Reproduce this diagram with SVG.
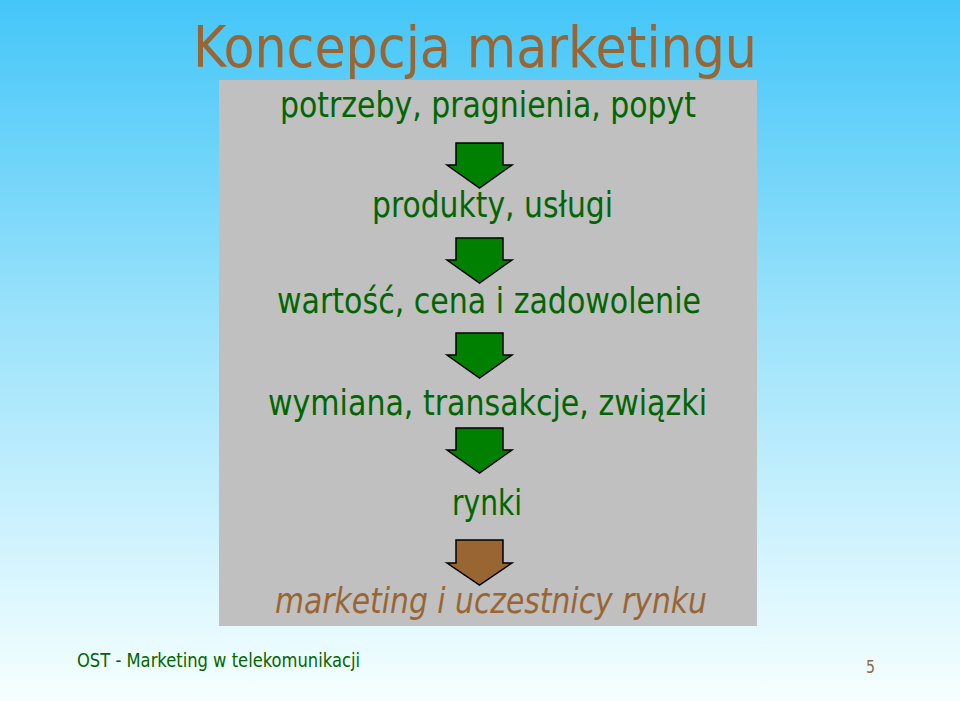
<svg xmlns="http://www.w3.org/2000/svg" width="960" height="701" viewBox="0 0 960 701">
  <defs>
    <linearGradient id="bg" x1="0" y1="0" x2="0" y2="1">
      <stop offset="0" stop-color="#44c6f8"/>
      <stop offset="0.45" stop-color="#9ae2fb"/>
      <stop offset="1" stop-color="#f6ffff"/>
    </linearGradient>
    <style>
      .t { font-family: "DejaVu Sans Condensed", "DejaVu Sans", sans-serif; }
      .node { font-size: 35px; fill: #006600; }
      .title { font-size: 57px; fill: #996633; }
      .it { font-size: 35px; fill: #996633; font-style: italic; }
      .foot { font-size: 19.5px; fill: #006600; }
      .num { font-size: 18px; fill: #8a6a40; }
      .arrow { fill: #008000; stroke: #000; stroke-width: 1.5; stroke-linejoin: miter; }
      .arrow.brown { fill: #996633; }
    </style>
  </defs>
  <rect x="0" y="0" width="960" height="701" fill="url(#bg)"/>
  <text id="title" class="t title" x="193" y="67" textLength="564" lengthAdjust="spacingAndGlyphs">Koncepcja marketingu</text>
  <rect id="panel" x="219" y="80" width="538" height="546" fill="#c0c0c0"/>

  <g id="n1"><text class="t node" x="280" y="117" textLength="416" lengthAdjust="spacingAndGlyphs">potrzeby, pragnienia, popyt</text></g>
  <g id="n2"><text class="t node" x="372" y="217" textLength="241" lengthAdjust="spacingAndGlyphs">produkty, usługi</text></g>
  <g id="n3"><text class="t node" x="277" y="313" textLength="424" lengthAdjust="spacingAndGlyphs">wartość, cena i zadowolenie</text></g>
  <g id="n4"><text class="t node" x="268" y="415" textLength="439" lengthAdjust="spacingAndGlyphs">wymiana, transakcje, związki</text></g>
  <g id="n5"><text class="t node" x="452" y="515" textLength="70" lengthAdjust="spacingAndGlyphs">rynki</text></g>
  <g id="n6"><text class="t it" x="275" y="613" textLength="432" lengthAdjust="spacingAndGlyphs">marketing i uczestnicy rynku</text></g>

  <g id="connectors">
    <polygon class="arrow" points="456,143 503,143 503,165 512,165 479.5,188 447,165 456,165"/>
    <polygon class="arrow" points="456,238 503,238 503,260 512,260 479.5,283 447,260 456,260"/>
    <polygon class="arrow" points="456,333 503,333 503,355 512,355 479.5,378 447,355 456,355"/>
    <polygon class="arrow" points="456,428 503,428 503,450 512,450 479.5,473 447,450 456,450"/>
    <polygon class="arrow brown" points="456,540 503,540 503,563 512,563 479.5,585 447,563 456,563"/>
  </g>

  <text id="footer" class="t foot" x="77" y="667" textLength="283" lengthAdjust="spacingAndGlyphs">OST - Marketing w telekomunikacji</text>
  <text id="page" class="t num" x="866" y="673" textLength="9" lengthAdjust="spacingAndGlyphs">5</text>
</svg>
